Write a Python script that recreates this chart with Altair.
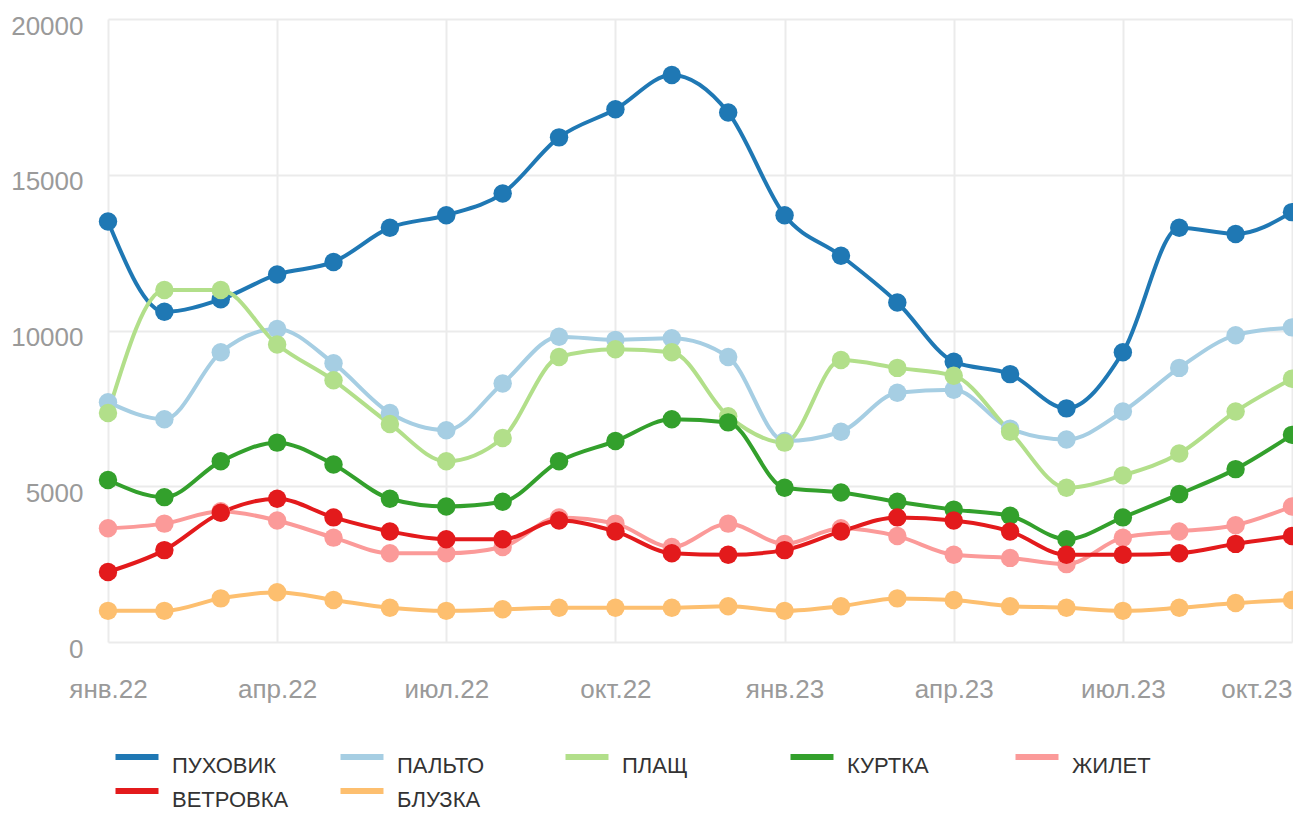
import json
import altair as alt
import pandas as pd

months = ["янв.22", "фев.22", "мар.22", "апр.22", "май.22", "июн.22", "июл.22", "авг.22",
          "сен.22", "окт.22", "ноя.22", "дек.22", "янв.23", "фев.23", "мар.23", "апр.23",
          "май.23", "июн.23", "июл.23", "авг.23", "сен.23", "окт.23"]
tick_labels = ["янв.22", "апр.22", "июл.22", "окт.22", "янв.23", "апр.23", "июл.23", "окт.23"]
series = ["ПУХОВИК", "ПАЛЬТО", "ПЛАЩ", "КУРТКА", "ЖИЛЕТ", "ВЕТРОВКА", "БЛУЗКА"]
colors = ["#1f78b4", "#a6cee3", "#b2df8a", "#33a02c", "#fb9a99", "#e31a1c", "#fdbf6f"]

puhovik = [13500, 10600, 11000, 11800, 12200, 13300, 13700, 14400, 16200, 17100, 18200, 17000,
           13700, 12400, 10900, 9000, 8600, 7500, 9300, 13300, 13100, 13800]
palto = [7700, 7150, 9300, 10050, 8950, 7350, 6800, 8300, 9800, 9700, 9750, 9150,
         6450, 6750, 8000, 8100, 6850, 6500, 7400, 8800, 9850, 10100]
plasch = [7350, 11300, 11300, 9550, 8400, 7000, 5800, 6550, 9150, 9400, 9300, 7250,
          6400, 9050, 8800, 8550, 6750, 4950, 5350, 6050, 7400, 8450]
kurtka = [5200, 4650, 5800, 6400, 5700, 4600, 4350, 4500, 5800, 6450, 7150, 7050,
          4950, 4800, 4500, 4250, 4050, 3300, 4000, 4750, 5550, 6650]
zhilet = [3650, 3800, 4200, 3900, 3350, 2850, 2850, 3050, 4000, 3800, 3050, 3800,
          3150, 3650, 3400, 2800, 2700, 2500, 3350, 3550, 3750, 4350]
vetrovka = [2250, 2950, 4150, 4600, 4000, 3550, 3300, 3300, 3900, 3550, 2850, 2800,
            2950, 3550, 4000, 3900, 3550, 2800, 2800, 2850, 3150, 3400]
bluzka = [1000, 1000, 1400, 1600, 1350, 1100, 1000, 1050, 1100, 1100, 1100, 1150,
          1000, 1150, 1400, 1350, 1150, 1100, 1000, 1100, 1250, 1350]

values = [puhovik, palto, plasch, kurtka, zhilet, vetrovka, bluzka]
rows = []
for s, vals in zip(series, values):
    for i, (m, v) in enumerate(zip(months, vals)):
        rows.append({"idx": i, "month": m, "series": s, "value": v})
df = pd.DataFrame(rows)

last_idx = len(months) - 1
label_expr = json.dumps(tick_labels, ensure_ascii=False) + "[round(datum.value/3)]"

FONT = "Liberation Sans"

x = alt.X("idx:Q",
          scale=alt.Scale(domain=[0, last_idx], nice=False, zero=False),
          axis=alt.Axis(values=list(range(0, len(months), 3)), labelExpr=label_expr,
                        title=None, domain=False, ticks=False, labelPadding=34,
                        labelFlush=False,
                        labelAlign={"condition": {"test": f"datum.value == {last_idx}",
                                                  "value": "right"},
                                    "value": "center"},
                        labelFontSize=26, labelColor="#9a9a9a", labelFont=FONT,
                        gridColor="#ebebeb", gridWidth=2))
y = alt.Y("value:Q",
          scale=alt.Scale(domain=[0, 20000], nice=False),
          axis=alt.Axis(values=[0, 5000, 10000, 15000, 20000], format="d", title=None,
                        domain=False, ticks=False, labelPadding=25, labelFontSize=26,
                        labelOffset=7, labelFlush=False,
                        labelColor="#9a9a9a", labelFont=FONT, gridColor="#ebebeb",
                        gridWidth=2))
color = alt.Color("series:N",
                  scale=alt.Scale(domain=series, range=colors),
                  sort=series,
                  legend=alt.Legend(title=None, orient="none", legendX=15, legendY=733,
                                    direction="horizontal", columns=5,
                                    symbolType="M-2,-0.84H2", symbolSize=462,
                                    symbolStrokeWidth=6, symbolOpacity=1,
                                    labelFontSize=22, labelFont=FONT, labelColor="#333333",
                                    labelBaseline="middle", labelOffset=21,
                                    columnPadding=39, rowPadding=1, gridAlign="all",
                                    labelLimit=300))

base = alt.Chart(df).encode(x=x, y=y, color=color, detail="series:N")
lines = base.mark_line(interpolate="monotone", strokeWidth=4)
points = base.mark_circle(size=340, opacity=1)

chart = (lines + points).properties(
    width=1184, height=623,
    autosize=alt.AutoSizeParams(type="none"),
    padding={"left": 100, "top": 11, "right": 1, "bottom": 168},
).configure_view(stroke=None)

chart.save("out.html", embed_options={"renderer": "svg", "actions": False})
